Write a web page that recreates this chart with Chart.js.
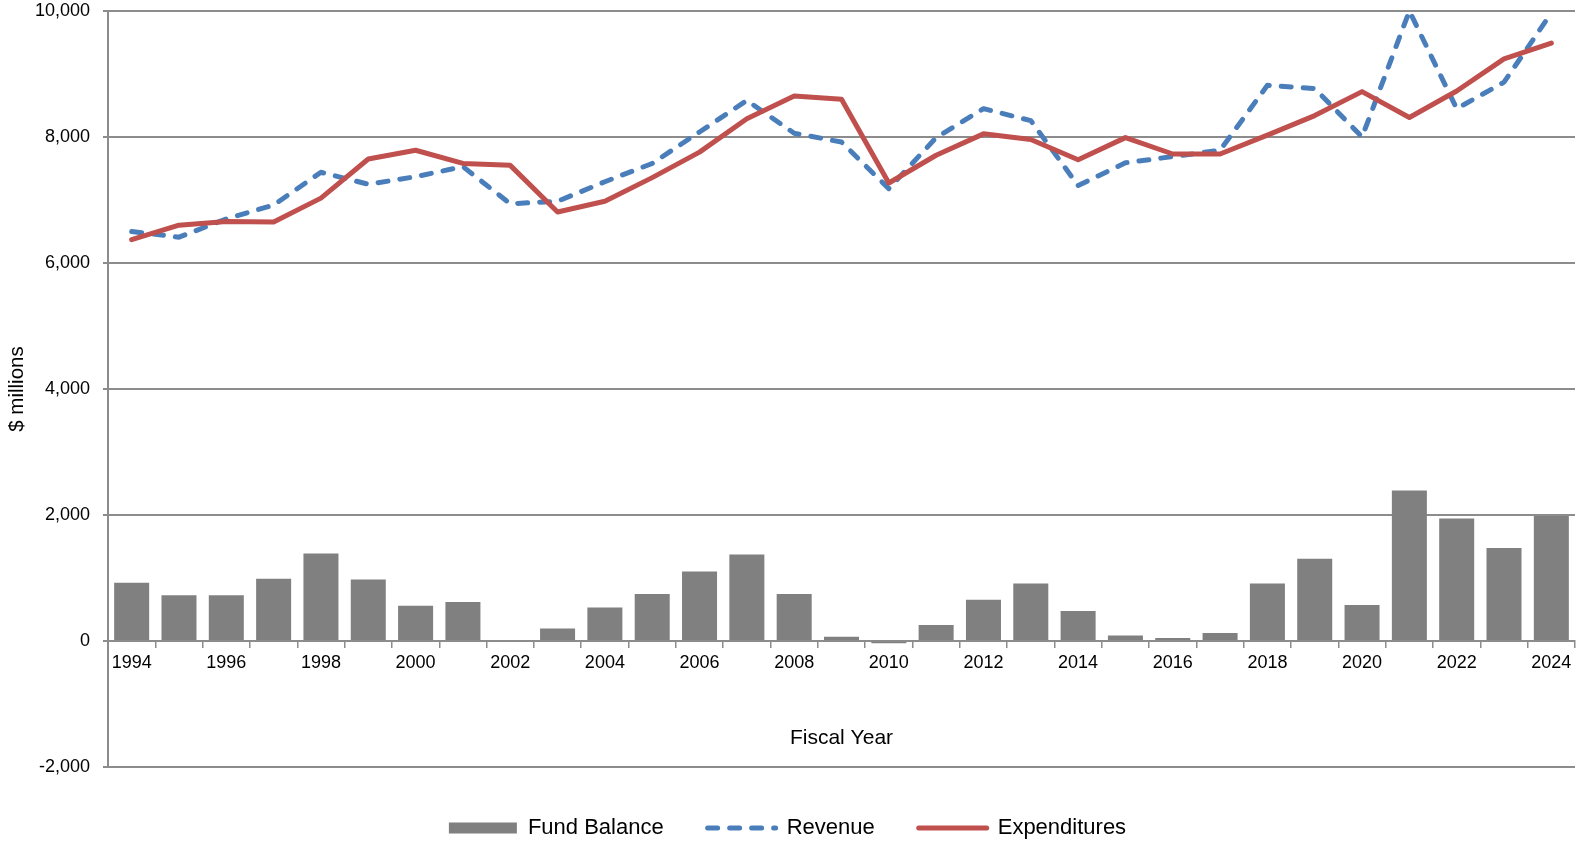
<!DOCTYPE html>
<html>
<head>
<meta charset="utf-8">
<script src="https://cdn.jsdelivr.net/npm/chart.js@4/dist/chart.umd.min.js"></script>
<style>
    html, body { margin: 0; padding: 0; background: #fff; }
    #wrap { width: 1579px; height: 842px; position: relative; }
</style>
</head>
<body>
<div id="wrap"><canvas id="fundChart"></canvas></div>
<script>
const years = ['1994', '1995', '1996', '1997', '1998', '1999', '2000', '2001', '2002', '2003',
    '2004', '2005', '2006', '2007', '2008', '2009', '2010', '2011', '2012', '2013',
    '2014', '2015', '2016', '2017', '2018', '2019', '2020', '2021', '2022', '2023', '2024'];

const fundBalance = [925, 725, 725, 990, 1390, 975, 560, 620, 15, 200,
    530, 745, 1105, 1375, 746, 66, -36, 254, 656, 914,
    476, 89, 48, 127, 914, 1306, 571, 2390, 1946, 1476, 1985];

const revenue = [6500, 6410, 6700, 6920, 7440, 7250, 7370, 7530, 6940, 6980,
    7290, 7580, 8080, 8580, 8060, 7920, 7180, 7990, 8450, 8260,
    7230, 7590, 7690, 7790, 8820, 8770, 8000, 10000, 8450, 8870, 9970];

const expenditures = [6370, 6600, 6660, 6650, 7030, 7650, 7790, 7580, 7550, 6810,
    6980, 7355, 7760, 8290, 8650, 8600, 7270, 7710, 8050, 7960,
    7640, 7990, 7730, 7730, 8030, 8340, 8720, 8310, 8730, 9240, 9490];

const gridColor = '#8c8c8c';
const defaultLabels = Chart.defaults.plugins.legend.labels.generateLabels;

Chart.defaults.font.family = "'Liberation Sans', Arial, sans-serif";
Chart.defaults.color = '#000';

const ctx = document.getElementById('fundChart').getContext('2d');
new Chart(ctx, {
    type: 'bar',
    data: {
        labels: years,
        datasets: [
            {
                label: 'Fund Balance',
                data: fundBalance,
                backgroundColor: '#808080',
                borderWidth: 0,
                barPercentage: 0.74,
                categoryPercentage: 1,
                pointStyle: 'rect',
                order: 3
            },
            {
                type: 'line',
                label: 'Revenue',
                data: revenue,
                borderColor: '#4a7ebb',
                backgroundColor: '#4a7ebb',
                borderWidth: 5,
                borderDash: [10, 12],
                borderCapStyle: 'round',
                borderJoinStyle: 'round',
                pointRadius: 0,
                pointStyle: 'line',
                tension: 0,
                fill: false,
                order: 2
            },
            {
                type: 'line',
                label: 'Expenditures',
                data: expenditures,
                borderColor: '#c0504d',
                backgroundColor: '#c0504d',
                borderWidth: 5,
                borderCapStyle: 'round',
                borderJoinStyle: 'round',
                pointRadius: 0,
                pointStyle: 'line',
                tension: 0,
                fill: false,
                order: 1
            }
        ]
    },
    options: {
        responsive: true,
        maintainAspectRatio: false,
        animation: false,
        layout: {
            // negative bottom lets the legend box run past the canvas edge
            padding: { top: 11, right: 4, left: 0, bottom: -7 }
        },
        scales: {
            x: {
                position: { y: 0 },
                grid: {
                    offset: true,
                    drawOnChartArea: false,
                    color: gridColor,
                    lineWidth: 1.5,
                    tickLength: 6
                },
                border: { display: true, color: gridColor, width: 2 },
                ticks: {
                    autoSkip: false,
                    maxRotation: 0,
                    padding: 5,
                    font: { size: 18 },
                    callback: (v, i) => (i % 2 === 0 ? years[i] : '')
                },
                title: {
                    display: true,
                    text: 'Fiscal Year',
                    font: { size: 21 },
                    padding: { top: 47, bottom: 0 }
                }
            },
            y: {
                min: -2000,
                max: 10000,
                afterFit: (s) => {
                    s.width = 108;
                    // tick padding would otherwise push the plot top down
                    s.paddingTop = 11;
                    s.paddingBottom = 11;
                },
                ticks: {
                    stepSize: 2000,
                    padding: 13,
                    font: { size: 18 },
                    callback: (v) => Number(v).toLocaleString('en-US')
                },
                grid: { color: gridColor, lineWidth: 2, tickLength: 5 },
                border: { display: true, color: gridColor, width: 2 },
                title: {
                    display: true,
                    text: '$ millions',
                    font: { size: 20.5 },
                    padding: { top: 5, bottom: 0 }
                }
            }
        },
        plugins: {
            legend: {
                position: 'bottom',
                title: { display: true, text: '', font: { size: 1, lineHeight: 1 }, padding: { top: 5, bottom: 0 } },
                labels: {
                    usePointStyle: true,
                    pointStyleWidth: 68,
                    boxHeight: 11,
                    padding: 44,
                    font: { size: 22 },
                    color: '#000',
                    sort: (a, b) => a.datasetIndex - b.datasetIndex,
                    generateLabels: function(chart) {
                        const items = defaultLabels(chart);
                        items.forEach(item => {
                            const ds = chart.data.datasets[item.datasetIndex];
                            if (ds.type === 'line') {
                                item.lineDash = ds.borderDash || [];
                                item.lineWidth = 5;
                                item.strokeStyle = ds.borderColor;
                                item.lineCap = 'round';
                            } else {
                                item.lineWidth = 0;
                            }
                        });
                        return items;
                    }
                }
            },
            tooltip: { enabled: false }
        }
    }
});
</script>
</body>
</html>
